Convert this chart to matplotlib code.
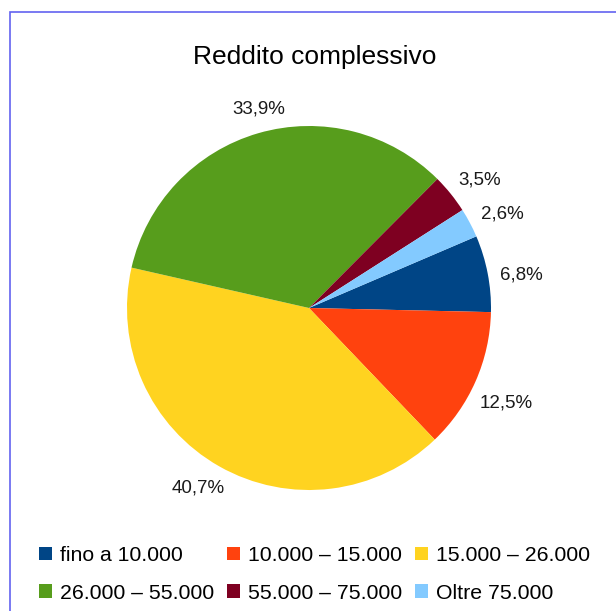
import numpy as np
import matplotlib
matplotlib.use("Agg")
import matplotlib.pyplot as plt
from matplotlib.patches import Patch, Rectangle

plt.rcParams['font.family'] = ['Liberation Sans', 'DejaVu Sans']

# data
categories = ['fino a 10.000', '10.000 – 15.000', '15.000 – 26.000',
              '26.000 – 55.000', '55.000 – 75.000', 'Oltre 75.000']
shares = [6.8, 12.5, 40.7, 33.9, 3.5, 2.6]
colors = ['#004586', '#ff420e', '#ffd320', '#579d1c', '#7e0021', '#83caff']
title = 'Reddito complessivo'

W, H = 616, 611
fig = plt.figure(figsize=(W / 100, H / 100), dpi=100)

# thin frame around the chart area (cut by the image edge)
fig.patches.append(Rectangle((10 / W, -0.1), 1.2, 1 - 12 / H + 0.1,
                             transform=fig.transFigure, fill=False,
                             edgecolor='#6262f0', linewidth=1.2))

# pie axes: centre (309, 308) px, radius 182 px
cx, cy, R = 309, 308, 182
lim = 1.3
size = 2 * R * lim
ax = fig.add_axes([(cx - size / 2) / W, (H - cy - size / 2) / H, size / W, size / H])
start = 360 * shares[0] / 100 - 1.3
wedges, _ = ax.pie(shares, colors=colors, startangle=start, counterclock=False,
                   wedgeprops=dict(linewidth=0))
ax.set_xlim(-lim, lim)
ax.set_ylim(-lim, lim)
ax.set_aspect('equal')

# percentage labels just outside the pie
texts = []
for w, v in zip(wedges, shares):
    t = ax.text(0, 0, f'{v:.1f}%'.replace('.', ','), fontsize=13.5,
                ha='center', va='center', color='#1a1a1a')
    texts.append(t)

fig.canvas.draw()
r = fig.canvas.get_renderer()
gap = 11
for w, t in zip(wedges, texts):
    ang = np.deg2rad((w.theta1 + w.theta2) / 2 - 2)
    bb = t.get_window_extent(r)
    half = bb.width / 2 * abs(np.cos(ang)) + (bb.height / 2 - 3) * abs(np.sin(ang))
    d = (R + gap + half) / R
    t.set_position((d * np.cos(ang), d * np.sin(ang)))

fig.text(315 / W, 1 - 57 / H, title, fontsize=19, ha='center', va='center')

# legend laid out row by row like the original
order = [0, 3, 1, 4, 2, 5]
handles = [Patch(facecolor=colors[i], edgecolor='none') for i in order]
labels = [categories[i] for i in order]
fig.legend(handles, labels, ncol=3, loc='upper left',
           bbox_to_anchor=(39 / W, 1 - 546 / H), frameon=False,
           fontsize=15.3, handlelength=0.61, handleheight=0.61,
           handletextpad=0.38, columnspacing=0.6, labelspacing=0.88,
           borderpad=0, borderaxespad=0)

fig.savefig('out.png', dpi=100)
